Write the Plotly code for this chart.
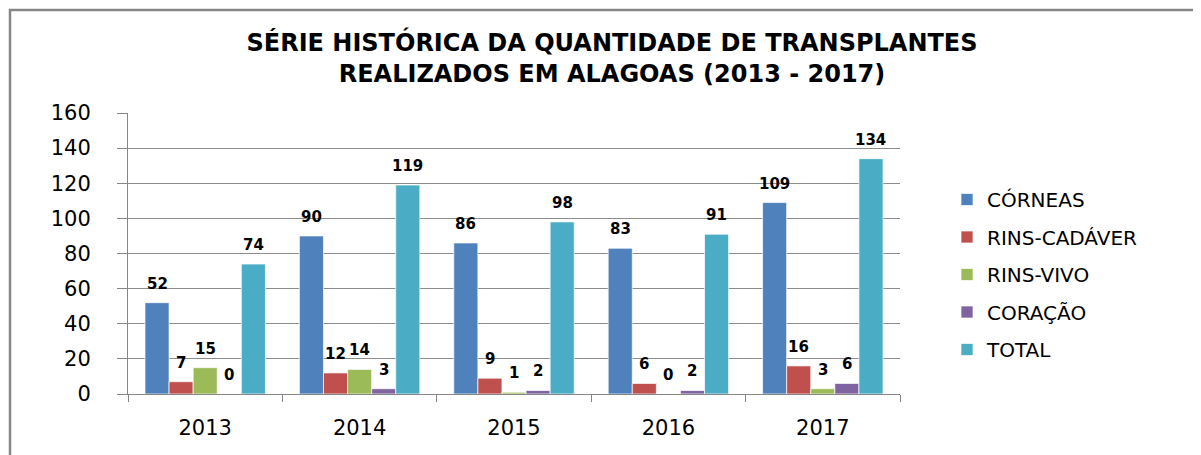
import plotly.graph_objects as go

years = ["2013", "2014", "2015", "2016", "2017"]
series_names = ["CÓRNEAS", "RINS-CADÁVER", "RINS-VIVO", "CORAÇÃO", "TOTAL"]
corneas = [52, 90, 86, 83, 109]
rins_cadaver = [7, 12, 9, 6, 16]
rins_vivo = [15, 14, 1, 0, 3]
coracao = [0, 3, 2, 2, 6]
total = [74, 119, 98, 91, 134]
y_ticks = [0, 20, 40, 60, 80, 100, 120, 140, 160]

series_values = [corneas, rins_cadaver, rins_vivo, coracao, total]
colors = ["#4F81BD", "#C0504D", "#9BBB59", "#8064A2", "#4BACC6"]

OFF = 8  # default page body margin
W, H = 1201 - OFF, 455 - OFF
# plot area in page pixels: x 128..900, y 113..394
PL, PR, PT, PB = 128, 900, 113, 394
ML, MR, MT, MB = PL - OFF, W - (PR - OFF), PT - OFF, H - (PB - OFF)
BARGAP = 0.22

fig = go.Figure()
for i, (name, vals) in enumerate(zip(series_names, series_values)):
    fig.add_trace(go.Bar(
        x=years, y=vals, name=name, legendgroup=name,
        marker=dict(color=colors[i], line=dict(color="rgba(255,255,255,0.7)", width=1)),
        hoverinfo="x+y+name",
    ))

# data labels
n = len(series_names)
bw = (1 - BARGAP) / n
annotations = []
for j, vals in enumerate(series_values):
    for i, v in enumerate(vals):
        annotations.append(dict(
            x=i + (j - (n - 1) / 2) * bw, y=v, xref="x", yref="y",
            text=str(v), showarrow=False, yanchor="middle", yshift=19,
            font=dict(family="DejaVu Sans", size=15, color="#000000", weight="bold"),
        ))

pw = W - ML - MR
ph = H - MT - MB
# outer chart border (top and left visible), page x=10, y=10
shapes = [dict(
    type="rect", xref="paper", yref="paper",
    x0=(10 - OFF - ML) / pw, x1=(W + 20 - ML) / pw,
    y0=-(H + 20 - MT - ph) / ph, y1=(H - (10 - OFF) - MB) / ph,
    line=dict(color="#868686", width=2.5), fillcolor="rgba(0,0,0,0)", layer="below",
)]

fig.update_layout(
    width=W, height=H,
    margin=dict(l=ML, r=MR, t=MT, b=MB, autoexpand=False),
    paper_bgcolor="white", plot_bgcolor="white",
    barmode="group", bargap=BARGAP, bargroupgap=0,
    title=dict(
        text="SÉRIE HISTÓRICA DA QUANTIDADE DE TRANSPLANTES<br>REALIZADOS EM ALAGOAS (2013 - 2017)",
        x=(612 - OFF) / W, xanchor="center", y=1 - (51 - OFF) / H, yanchor="top",
        font=dict(family="DejaVu Sans", size=24, color="#000000", weight="bold"),
    ),
    xaxis=dict(
        type="category", tickson="boundaries", ticks="outside", ticklen=7,
        tickcolor="#868686", showline=True, linecolor="#868686", linewidth=1,
        showgrid=False, ticklabelstandoff=15,
        tickfont=dict(family="DejaVu Sans", size=21, color="#000000"),
    ),
    yaxis=dict(
        range=[0, 160], tickvals=y_ticks, ticks="outside", ticklen=10,
        tickcolor="#868686", showline=True, linecolor="#868686", linewidth=1,
        showgrid=True, gridcolor="#8c8c8c", gridwidth=1, zeroline=False,
        ticklabelstandoff=22,
        tickfont=dict(family="DejaVu Sans", size=21, color="#000000"),
    ),
    legend=dict(
        x=(947 - OFF - ML) / pw, xanchor="left", y=(H - MB - (180 - OFF)) / ph, yanchor="top",
        font=dict(family="DejaVu Sans", size=20, color="#000000"),
        tracegroupgap=8.5, bgcolor="rgba(0,0,0,0)",
    ),
    annotations=annotations, shapes=shapes, showlegend=True,
)

fig.write_html("out.html")
